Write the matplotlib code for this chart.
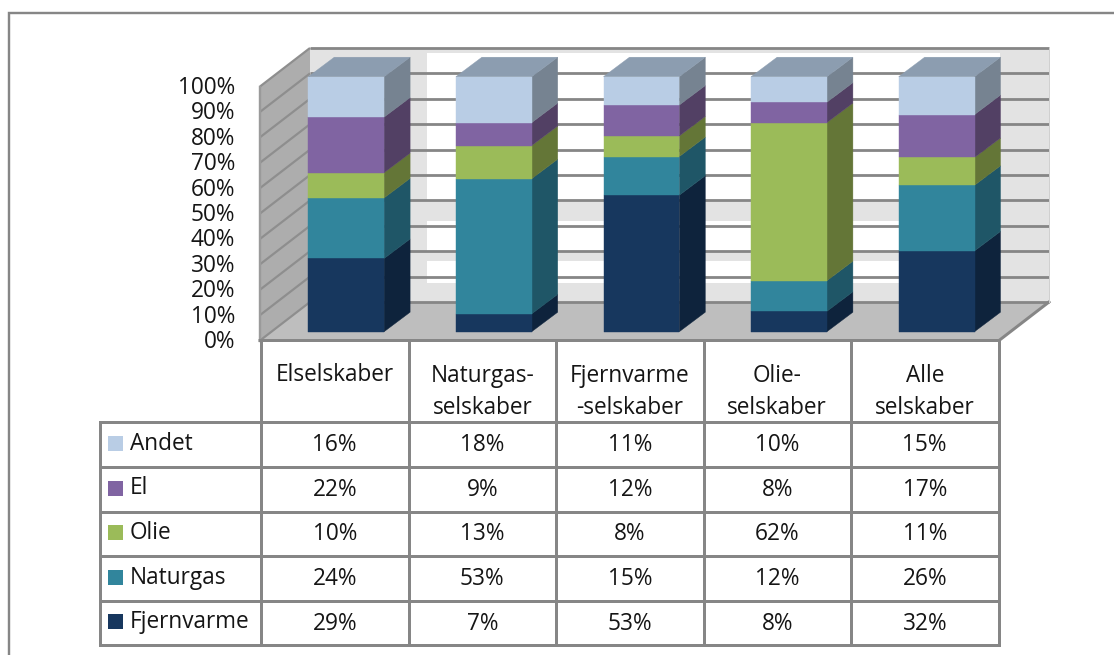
import matplotlib
matplotlib.use("Agg")
import matplotlib.pyplot as plt
from matplotlib.patches import Polygon, Rectangle

plt.rcParams['font.family'] = ['Open Sans', 'DejaVu Sans']

categories = ["Elselskaber", "Naturgas-\nselskaber", "Fjernvarme\n-selskaber", "Olie-\nselskaber", "Alle\nselskaber"]
series_names = ["Andet", "El", "Olie", "Naturgas", "Fjernvarme"]
andet = [16, 18, 11, 10, 15]
el = [22, 9, 12, 8, 17]
olie = [10, 13, 8, 62, 11]
naturgas = [24, 53, 15, 12, 26]
fjernvarme = [29, 7, 53, 8, 32]
ticks = [0, 10, 20, 30, 40, 50, 60, 70, 80, 90, 100]

rows = [andet, el, olie, naturgas, fjernvarme]
front = ['#B9CDE5', '#8064A2', '#9BBB59', '#31859C', '#17375E']
side = ['#768391', '#524064', '#647637', '#1F5667', '#0E233C']
top_col = '#8C9DB0'
GRID = '#868686'
WALL = '#E3E3E3'
LEFT = '#ADADAD'
FLOOR = '#BEBEBE'
TXT = '#151515'
FS = 16.3

fig = plt.figure(figsize=(11.14, 6.55), dpi=100, facecolor='white')
ax = fig.add_axes([0, 0, 1, 1])
ax.set_xlim(0, 1114)
ax.set_ylim(655, 0)
ax.axis('off')

# chart box layout, in pixels
X0, X1, Y0 = 260, 999, 340.5
H = 254.0
DX, DY = 50, 38.5
BAR_L, BAR_W, BAR_STEP = 308.3, 75.8, 147.6
BAR_Y0, BAR_H = 331.7, 255.0
BDX, BDY = 26, 19.5


def px(lw):
    return lw * 0.72


# outer frame
ax.plot([8.5, 8.5, 1114], [655, 13, 13], color=GRID, lw=px(2.4), solid_joinstyle='miter', zorder=1)

# back wall with its white patches
bx0, bx1, by0 = X0 + DX, X1 + DX, Y0 - DY
ax.add_patch(Rectangle((bx0, by0 - H), bx1 - bx0, H, fc=WALL, ec='none', zorder=1))
for ya, yb in [(52.7, 201), (221, 251.7), (261, 283)]:
    ax.add_patch(Rectangle((427, ya), 573, yb - ya, fc='white', ec='none', zorder=1.1))

# left wall and floor
ax.add_patch(Polygon([(X0, Y0), (X0, Y0 - H), (bx0, by0 - H), (bx0, by0)], fc=LEFT, ec='none', zorder=1.2))
ax.add_patch(Polygon([(X0, Y0), (X1, Y0), (bx1, by0), (bx0, by0)], fc=FLOOR, ec='none', zorder=1.3))

# gridlines
for t in ticks:
    d = t / 100 * H
    ax.plot([X0, bx0], [Y0 - d, by0 - d], color='#8E8E8E', lw=px(2.2), zorder=1.4, solid_capstyle='butt')
    ax.plot([bx0, bx1], [by0 - d, by0 - d], color=GRID, lw=px(2.8), zorder=1.4, solid_capstyle='butt')
    ax.text(235, Y0 - d + 1.5, f"{t}%", ha='right', va='center', fontsize=FS, color=TXT, zorder=5)
ax.plot([X0, X0], [Y0, Y0 - H], color='#9A9A9A', lw=px(2.4), zorder=1.5)
ax.plot([X0, X1, bx1], [Y0, Y0, by0], color=GRID, lw=px(3), zorder=1.5)
ax.plot([bx1, bx1], [by0, by0 - H], color='#D0D0D0', lw=px(1), zorder=1.5)

# stacked 3-D bars, normalised to 100 %
for i in range(len(categories)):
    vals = [r[i] for r in rows][::-1]
    cols = front[::-1]
    sides = side[::-1]
    total = sum(vals)
    x = BAR_L + i * BAR_STEP
    cum = 0
    for v, fc, sc in zip(vals, cols, sides):
        a = BAR_Y0 - cum / total * BAR_H
        cum += v
        b = BAR_Y0 - cum / total * BAR_H
        ax.add_patch(Polygon([(x + BAR_W, a), (x + BAR_W + BDX, a - BDY), (x + BAR_W + BDX, b - BDY), (x + BAR_W, b)],
                             fc=sc, ec=sc, lw=0.3, zorder=2))
        ax.add_patch(Rectangle((x, b), BAR_W, a - b, fc=fc, ec=fc, lw=0.3, zorder=3))
    b = BAR_Y0 - BAR_H
    ax.add_patch(Polygon([(x, b), (x + BDX, b - BDY), (x + BAR_W + BDX, b - BDY), (x + BAR_W, b)],
                         fc=top_col, ec=top_col, lw=0.3, zorder=3))

# data table
col_x = [261, 408.5, 556, 703.5, 851, 998.5]
row_y = [341, 422, 467, 512, 556, 601, 645]
leg_x = 99.5
LW = px(3)
for xv in col_x:
    ax.plot([xv, xv], [row_y[0], row_y[-1]], color=GRID, lw=LW, zorder=4, solid_capstyle='projecting')
ax.plot([leg_x, leg_x], [row_y[1], row_y[-1]], color=GRID, lw=LW, zorder=4, solid_capstyle='projecting')
for yv in row_y[1:]:
    ax.plot([leg_x, col_x[-1]], [yv, yv], color=GRID, lw=LW, zorder=4, solid_capstyle='projecting')

for j, label in enumerate(categories):
    xc = (col_x[j] + col_x[j + 1]) / 2
    if '\n' in label:
        l1, l2 = label.split('\n')
        ax.text(xc, 376, l1, ha='center', va='center', fontsize=FS, color=TXT)
        ax.text(xc, 408, l2, ha='center', va='center', fontsize=FS, color=TXT)
    else:
        ax.text(xc, 375, label, ha='center', va='center', fontsize=FS, color=TXT)

for r, (name, vals, fc) in enumerate(zip(series_names, rows, front)):
    yc = (row_y[r + 1] + row_y[r + 2]) / 2
    ax.add_patch(Rectangle((108, yc - 9), 15, 15, fc=fc, ec='none', zorder=5))
    ax.text(129.5, yc - 1, name, ha='left', va='center', fontsize=FS, color=TXT)
    for j, v in enumerate(vals):
        xc = (col_x[j] + col_x[j + 1]) / 2
        ax.text(xc, yc + 0.5, f"{v}%", ha='center', va='center', fontsize=FS, color=TXT)

fig.savefig('out.png', dpi=100, facecolor='white')
